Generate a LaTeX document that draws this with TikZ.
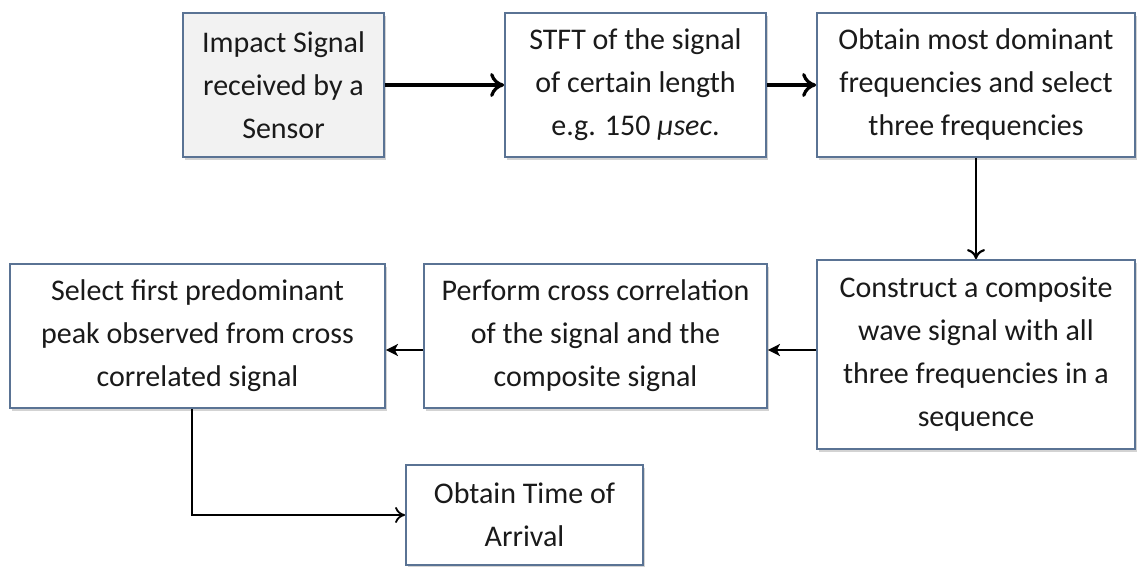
\documentclass[tikz,border=0pt]{standalone}
\usepackage{fontspec}
\setmainfont{Carlito}
\usetikzlibrary{arrows.meta,shadows}
\definecolor{boxline}{HTML}{5A7394}
\definecolor{boxgray}{HTML}{F2F2F2}
\definecolor{txt}{HTML}{1A1A1A}
\begin{document}
\begin{tikzpicture}[x=0.5pt,y=-0.5pt,
  flowbox/.style={draw=boxline,line width=0.9pt,fill=white,inner sep=2pt,
    align=center,text=txt,
    font=\fontsize{15}{21.5}\selectfont,
    drop shadow={opacity=0.35,shadow xshift=1.2pt,shadow yshift=-1.5pt}},
  bigarrow/.style={draw=black,line width=1.7pt,-{To[length=7pt,width=12pt,line width=1.6pt]}},
  downarrow/.style={draw=black,line width=1.1pt,-{To[length=5pt,width=9pt,line width=1.1pt]}},
  backarrow/.style={draw=black,line width=1.4pt,-{Stealth[length=6pt,width=6pt,inset=1.5pt]}},
  thinarrow/.style={draw=black,line width=0.8pt,-{To[length=5pt,width=8pt,line width=0.9pt]}},
]
\useasboundingbox (0,0) rectangle (1137,567);
\node[flowbox,fill=boxgray,minimum width=100.5pt,minimum height=72pt] (b1) at (283.5,85)
  {Impact Signal\\received by a\\Sensor};
\node[flowbox,minimum width=130.5pt,minimum height=72pt] (b2) at (635.5,85)
  {STFT of the signal\\of certain length\\e.g. 150 {\itshape μsec}.};
\node[flowbox,minimum width=159pt,minimum height=72pt] (b3) at (976,85)
  {Obtain most dominant\\frequencies and select\\three frequencies};
\node[flowbox,minimum width=159pt,minimum height=94.5pt] (b4) at (976,354.5)
  {Construct a composite\\wave signal with all\\three frequencies in a\\sequence};
\node[flowbox,minimum width=171.5pt,minimum height=72pt] (b5) at (595.5,336)
  {Perform cross correlation\\of the signal and the\\composite signal};
\node[flowbox,minimum width=187.5pt,minimum height=72pt] (b6) at (197.5,336)
  {Select first predominant\\peak observed from cross\\correlated signal};
\node[flowbox,minimum width=118.5pt,minimum height=50pt] (b7) at (524.5,515)
  {Obtain Time of\\Arrival};
\coordinate (ylow) at (0,350);
\coordinate (xdown) at (192,0);
\draw[bigarrow] (b1) -- (b2);
\draw[bigarrow] (b2) -- (b3);
\draw[downarrow] (b3) -- (b4);
\draw[backarrow] (b4.west |- ylow) -- (b5.east |- ylow);
\draw[backarrow] (b5.west |- ylow) -- (b6.east |- ylow);
\draw[thinarrow] (b6.south -| xdown) |- (b7.west);
\end{tikzpicture}
\end{document}
